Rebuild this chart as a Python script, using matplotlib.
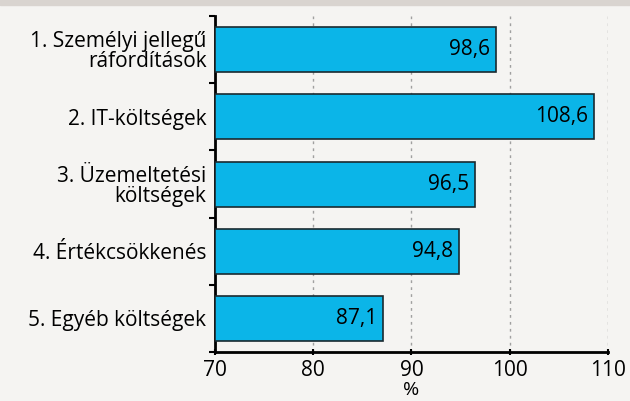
import matplotlib
matplotlib.use("Agg")
import matplotlib.pyplot as plt

# data
categories = [
    "1. Személyi jellegű\nráfordítások",
    "2. IT-költségek",
    "3. Üzemeltetési\nköltségek",
    "4. Értékcsökkenés",
    "5. Egyéb költségek",
]
values = [98.6, 108.6, 96.5, 94.8, 87.1]
xticks = [70, 80, 90, 100, 110]

plt.rcParams["font.family"] = ["Open Sans", "DejaVu Sans"]

bg = "#f5f4f2"
fig = plt.figure(figsize=(6.3, 4.01), dpi=100, facecolor=bg)
ax = fig.add_axes([0.341, 0.122, 0.624, 0.838], facecolor=bg)

# top band
fig.patches.append(plt.Rectangle((0, 0.988), 1, 0.012, transform=fig.transFigure,
                                 color="#d9d4d0", zorder=0))

ypos = list(range(len(categories)))
ax.barh(ypos, [v - 70 for v in values], left=70, height=0.67,
        color="#0bb5e8", edgecolor="#1a2a30", linewidth=1.2, zorder=3)

for y, v in zip(ypos, values):
    ax.text(v - 0.6, y, f"{v:.1f}".replace(".", ","), ha="right", va="center",
            fontsize=15, color="black", zorder=4)

ax.set_xlim(70, 110)
ax.set_ylim(len(categories) - 0.5, -0.5)
ax.set_xticks(xticks)
ax.set_xticklabels([str(t) for t in xticks], fontsize=15)
ax.set_yticks(ypos)
ax.set_yticklabels(categories, fontsize=15, linespacing=0.95)
ax.tick_params(axis="y", length=0, pad=6)
ax.set_yticks([i - 0.5 for i in range(len(categories) + 1)], minor=True)
ax.tick_params(axis="y", which="minor", length=4, width=1.5)
ax.tick_params(axis="x", length=4, width=1.5, direction="inout", pad=4)
for lab in ax.get_yticklabels():
    lab.set_horizontalalignment("right")

ax.set_xlabel("%", fontsize=14, labelpad=0)
ax.xaxis.grid(True, linestyle=(0, (2, 3)), color="#a0a0a0", linewidth=1, zorder=0)
ax.set_axisbelow(True)

for s in ["top", "right"]:
    ax.spines[s].set_visible(False)
for s in ["left", "bottom"]:
    ax.spines[s].set_linewidth(2)

fig.savefig("out.png", dpi=100, facecolor=bg)
